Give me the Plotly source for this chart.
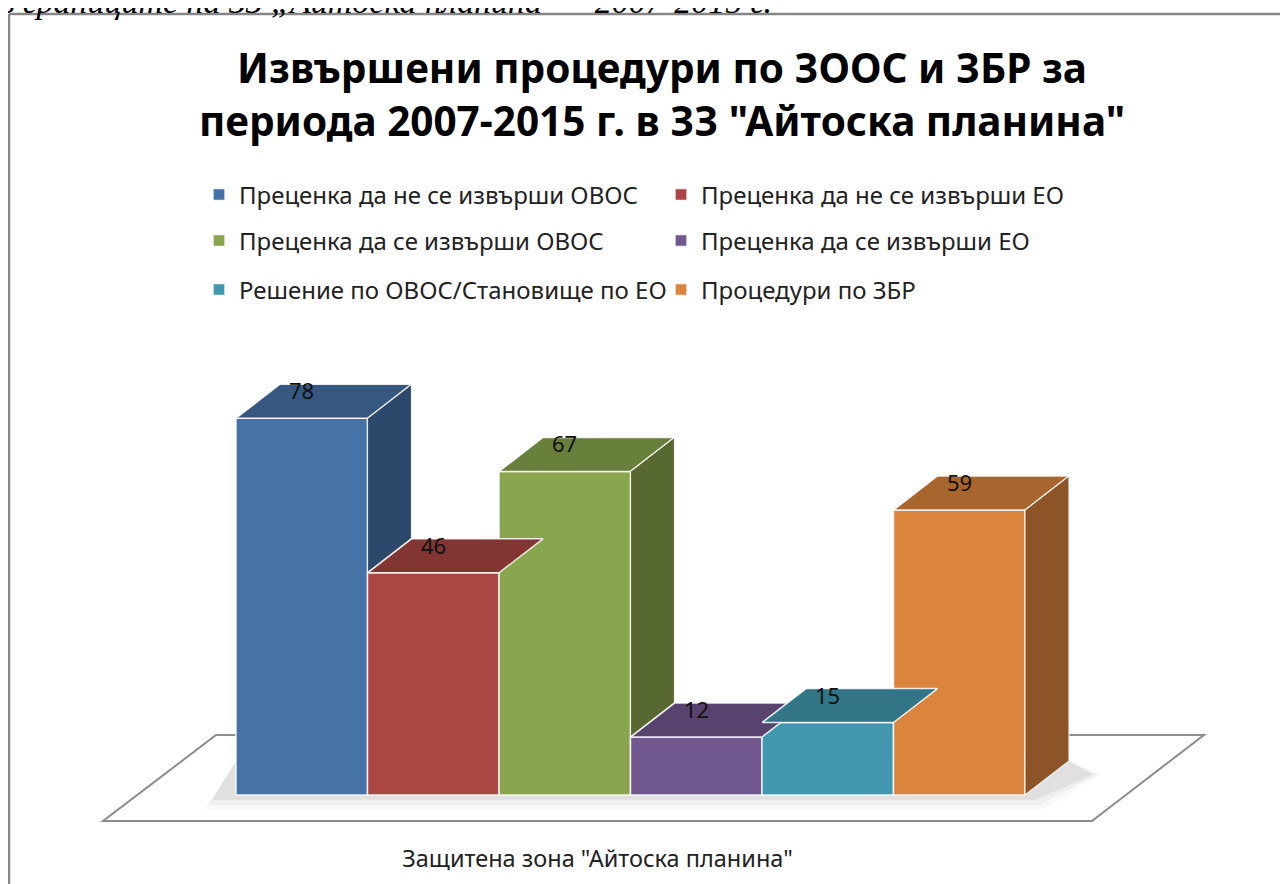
import plotly.graph_objects as go

# ---------------- data ----------------
series_names = [
    "Преценка да не се извърши ОВОС",
    "Преценка да не се извърши ЕО",
    "Преценка да се извърши ОВОС",
    "Преценка да се извърши ЕО",
    "Решение по ОВОС/Становище по ЕО",
    "Процедури по ЗБР",
]
values = [78, 46, 67, 12, 15, 59]
category_label = 'Защитена зона "Айтоска планина"'
title_text = 'Извършени процедури по ЗООС и ЗБР за<br>периода 2007-2015 г. в ЗЗ "Айтоска планина"'
caption_text = "в границите на ЗЗ „Айтоска планина” – 2007-2015 г."

# ---------------- style ----------------
colors = ["#4572A7", "#AA4643", "#89A54E", "#71588F", "#4198AF", "#DB843D"]
TOP_SHADE = 0.77
SIDE_SHADE = 0.64
FONT = "Noto Sans"

PAGE_OFF = 8                      # default body margin of the html page
W, H = 1288 - PAGE_OFF, 884 - PAGE_OFF
ML, MR, MT, MB = 52, 32, 292, 42
BAR_LEFT_PX = 236.0 - PAGE_OFF    # left edge of first bar
PX_PER_X = 131.5                  # pixels per bar width
BASE_PX = 795.0 - PAGE_OFF        # pixel of value 0
PX_PER_Y = 4.83                   # pixels per value unit

DX = 44 / PX_PER_X      # depth offset (x, data units)
DY = 34 / PX_PER_Y      # depth offset (y, data units)

# floor parallelogram (data units): front-left, front-right, back-right, back-left
FLOOR_X = [-1.511, 6.009, 6.861, -0.652]
FLOOR_Y = [-5.38, -5.38, 12.42, 12.42]

x_range = [(ML - BAR_LEFT_PX) / PX_PER_X - 0.5, (W - MR - BAR_LEFT_PX) / PX_PER_X - 0.5]
y_range = [(BASE_PX - (H - MB)) / PX_PER_Y, (BASE_PX - MT) / PX_PER_Y]


def shade(hex_color, f):
    h = hex_color.lstrip("#")
    r, g, b = (int(h[i:i + 2], 16) for i in (0, 2, 4))
    return "rgb(%d,%d,%d)" % (r * f, g * f, b * f)


def paper_x(page_px):
    return (page_px - PAGE_OFF - ML) / (W - ML - MR)


def paper_y(page_py):
    return (H - MB - (page_py - PAGE_OFF)) / (H - MT - MB)


def cont_x(page_px):
    return (page_px - PAGE_OFF) / W


def cont_y(page_py):
    return 1 - (page_py - PAGE_OFF) / H


fig = go.Figure()

legend_ids = ["legend", "legend", "legend2", "legend2", "legend3", "legend3"]

# front faces (real bars, with legend entries)
for i, (name, v, c) in enumerate(zip(series_names, values, colors)):
    fig.add_trace(go.Bar(
        x=[i], y=[v], width=1, name=name,
        marker=dict(color=c, line=dict(color="rgba(255,255,255,0.85)", width=1.5)),
        legend=legend_ids[i], hoverinfo="name+y",
    ))

# top and visible side faces
n = len(values)
for i, (v, c) in enumerate(zip(values, colors)):
    x0, x1 = i - 0.5, i + 0.5
    fig.add_trace(go.Scatter(
        x=[x0, x1, x1 + DX, x0 + DX, x0], y=[v, v, v + DY, v + DY, v],
        mode="lines", fill="toself", fillcolor=shade(c, TOP_SHADE),
        line=dict(color="rgba(255,255,255,0.85)", width=1.5),
        showlegend=False, hoverinfo="skip",
    ))
    h0 = values[i + 1] if i + 1 < n else 0
    if h0 < v:
        fig.add_trace(go.Scatter(
            x=[x1, x1, x1 + DX, x1 + DX, x1], y=[h0, v, v + DY, h0 + DY, h0],
            mode="lines", fill="toself", fillcolor=shade(c, SIDE_SHADE),
            line=dict(color="rgba(255,255,255,0.85)", width=1.2),
            showlegend=False, hoverinfo="skip",
        ))

# data labels
for i, v in enumerate(values):
    fig.add_annotation(x=i, y=v, text=str(v), showarrow=False, yshift=28,
                       font=dict(family=FONT, size=22, color="#111111"))

# floor
floor_path = "M " + " L ".join(f"{x},{y}" for x, y in zip(FLOOR_X, FLOOR_Y)) + " Z"
shapes = [dict(type="path", path=floor_path, xref="x", yref="y", layer="below",
               fillcolor="white", line=dict(color="#8c8c8c", width=2))]
# soft shadow along the base of the bars
for k, op in enumerate([0.09, 0.06, 0.035]):
    e = 0.03 * (k + 1)
    shapes.append(dict(
        type="path", xref="x", yref="y", layer="below",
        path=(f"M {-0.5 - 0.15 - e},{-1 - 1.0*k} L {5.5 + 0.05 + e},{-1 - 1.0*k} "
              f"L {5.5 + DX + 0.15 + e},{DY * 0.6} L {5.5 + DX},{DY} L {-0.5},{DY} Z"),
        fillcolor=f"rgba(90,90,90,{op})", line=dict(width=0)))
# outer frame of the embedded chart
shapes.append(dict(type="line", xref="paper", yref="paper",
                   x0=paper_x(9), x1=paper_x(9), y0=paper_y(14), y1=paper_y(900),
                   line=dict(color="#868686", width=2.5)))
shapes.append(dict(type="line", xref="paper", yref="paper",
                   x0=paper_x(9), x1=paper_x(1300), y0=paper_y(14), y1=paper_y(14),
                   line=dict(color="#868686", width=2.5)))

# cut-off caption of the surrounding document
fig.add_annotation(xref="paper", yref="paper", x=paper_x(-2), y=paper_y(1),
                   xanchor="left", yanchor="middle", showarrow=False, text=caption_text,
                   font=dict(family="Liberation Serif", size=34, color="black", style="italic"))

legend_common = dict(orientation="h", xref="container", yref="container",
                     xanchor="left", yanchor="middle", entrywidth=417,
                     entrywidthmode="pixels", bgcolor="rgba(0,0,0,0)",
                     font=dict(family=FONT, size=24, color="#222222"),
                     itemwidth=30, traceorder="normal")

LEG_X = cont_x(199)
fig.update_layout(
    width=W, height=H,
    margin=dict(l=ML, r=MR, t=MT, b=MB, autoexpand=False),
    paper_bgcolor="white", plot_bgcolor="white",
    barmode="overlay",
    title=dict(text=title_text, x=cont_x(662), xanchor="center", xref="container",
               y=cont_y(83), yanchor="top", yref="container",
               font=dict(family=FONT, size=40.5, color="black", weight="bold")),
    xaxis=dict(range=x_range, tickvals=[(FLOOR_X[0] + FLOOR_X[1]) / 2], ticktext=[category_label],
               showgrid=False, zeroline=False, showline=False,
               ticks="", tickfont=dict(family=FONT, size=23.5, color="#222222"), fixedrange=True),
    yaxis=dict(range=y_range, visible=False, fixedrange=True),
    shapes=shapes,
    legend=dict(legend_common, x=LEG_X, y=cont_y(195)),
    legend2=dict(legend_common, x=LEG_X, y=cont_y(241)),
    legend3=dict(legend_common, x=LEG_X, y=cont_y(290)),
    showlegend=True,
)

fig.write_html("out.html")
